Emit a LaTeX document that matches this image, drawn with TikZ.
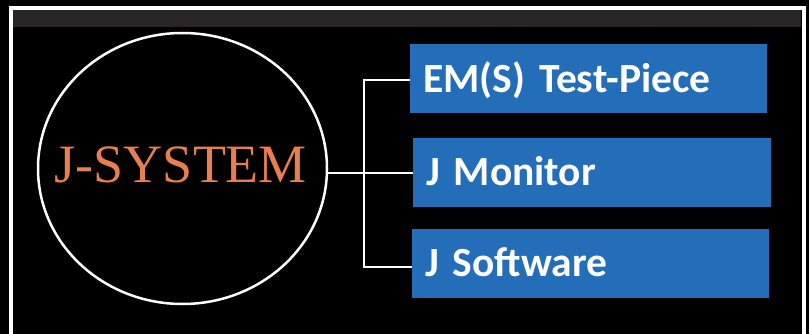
\documentclass[tikz,border=0pt]{standalone}
\usepackage{fontspec}
\setmainfont{Liberation Serif}
\newfontfamily\boxfont{Carlito}
\usetikzlibrary{shapes.geometric}

\definecolor{bandgray}{RGB}{40,37,38}
\definecolor{itemblue}{RGB}{36,110,185}
\definecolor{titleorange}{RGB}{232,127,78}

\tikzset{
  itembox/.style={draw=none, fill=itemblue, anchor=north west,
    inner xsep=13pt, inner ysep=0pt, minimum height=69pt,
    text width=331pt, align=left, text=white,
    font=\boxfont\bfseries\fontsize{41.5}{41.5}\selectfont,
    text height=26.5pt, text depth=0pt},
  link/.style={draw=white, line width=2pt},
}

\begin{document}
\begin{tikzpicture}[x=1pt, y=-1pt]
  \useasboundingbox (0,0) rectangle (809,334);
  % background, header band and frame
  \fill[black] (0,0) rectangle (809,334);
  \fill[bandgray] (13,10) rectangle (801,27);
  \draw[white, line width=4pt] (11,340) -- (11,8) -- (803.5,8) -- (803.5,340);

  % central ellipse with title
  \node[ellipse, draw=white, line width=2.5pt, minimum width=289pt,
        minimum height=271pt, inner sep=0pt] (sys) at (182.5,168.5) {};
  \node[text=titleorange, font=\fontsize{54}{54}\selectfont,
        text height=35.7pt, text depth=0pt, inner sep=0pt]
        (lbl) at (181,165) {J-SYSTEM};

  % item boxes
  \node[itembox, text width=331pt] (b1) at (410,44.3) {EM(S) Test-Piece};
  \node[itembox, text width=332pt] (b2) at (413,138) {J Monitor};
  \node[itembox, text width=331pt] (b3) at (412,229) {J Software};

  % connectors
  \coordinate (trunk) at (364,173);
  \draw[link] (sys.east |- b2.west) -- (b2.west);
  \draw[link] ([yshift=-1.5pt]b1.west) -| (trunk) |- ([yshift=-3.5pt]b3.west);
\end{tikzpicture}
\end{document}
